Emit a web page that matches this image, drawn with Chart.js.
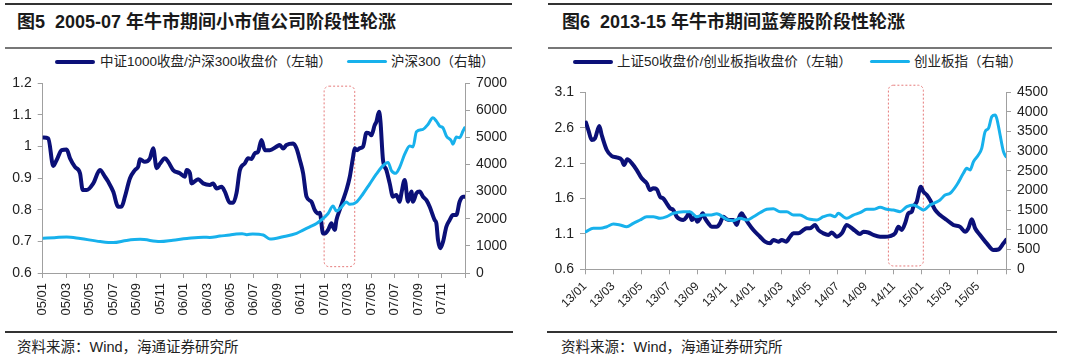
<!DOCTYPE html>
<html>
<head>
<meta charset="utf-8">
<script src="https://cdn.jsdelivr.net/npm/chart.js@4/dist/chart.umd.min.js"></script>
<style>
  html, body { margin:0; padding:0; background:#fff; }
  #wrap { position:relative; width:1080px; height:359px; overflow:hidden; font-family:"Liberation Sans","Noto Sans CJK SC",sans-serif; color:#222; }
  .rule { position:absolute; }
  .title { position:absolute; font-size:18px; font-weight:bold; line-height:24px; white-space:nowrap; color:#1a1a1a; }
  .leg { position:absolute; font-size:13.5px; line-height:16px; white-space:nowrap; color:#222; }
  .sw { position:absolute; height:4px; border-radius:2px; }
  .src { position:absolute; font-size:14.5px; line-height:18px; white-space:nowrap; color:#222; }
  canvas { position:absolute; top:0; }
</style>
</head>
<body>
<div id="wrap">
  <!-- left panel frame -->
  <div class="rule" style="left:5px;top:3px;width:507px;height:2px;background:#333"></div>
  <div class="title" style="left:17px;top:10px">图5&nbsp;&nbsp;2005-07 年牛市期间小市值公司阶段性轮涨</div>
  <div class="rule" style="left:5px;top:47px;width:507px;height:1.5px;background:#777"></div>
  <div class="sw" style="left:55px;top:60px;width:40px;background:#0b1078"></div>
  <div class="leg" style="left:100px;top:54px">中证1000收盘/沪深300收盘价（左轴）</div>
  <div class="sw" style="left:347px;top:60px;width:40px;height:3px;background:#17b1ec"></div>
  <div class="leg" style="left:391px;top:54px">沪深300（右轴）</div>
  <div class="rule" style="left:5px;top:331px;width:508px;height:1.5px;background:#333"></div>
  <div class="src" style="left:17px;top:338px">资料来源：Wind，海通证券研究所</div>

  <!-- right panel frame -->
  <div class="rule" style="left:548px;top:3px;width:504px;height:2px;background:#333"></div>
  <div class="title" style="left:562px;top:10px">图6&nbsp;&nbsp;2013-15 年牛市期间蓝筹股阶段性轮涨</div>
  <div class="rule" style="left:548px;top:47px;width:504px;height:1.5px;background:#777"></div>
  <div class="sw" style="left:573px;top:60px;width:40px;background:#0b1078"></div>
  <div class="leg" style="left:617px;top:54px">上证50收盘价/创业板指收盘价（左轴）</div>
  <div class="sw" style="left:870px;top:60px;width:40px;height:3px;background:#17b1ec"></div>
  <div class="leg" style="left:914px;top:54px">创业板指（右轴）</div>
  <div class="rule" style="left:547px;top:331px;width:510px;height:1.5px;background:#333"></div>
  <div class="src" style="left:561px;top:338px">资料来源：Wind，海通证券研究所</div>

  <canvas id="c1" width="540" height="330" style="left:0px"></canvas>
  <canvas id="c2" width="540" height="330" style="left:540px"></canvas>
</div>
<script>
// ---------------- DATA: Figure 5 (2005-07), x = months since 2005/01 ----------------
const fig5TickLabels = ['05/01','05/03','05/05','05/07','05/09','05/11','06/01','06/03','06/05','06/07','06/09','06/11','07/01','07/03','07/05','07/07','07/09','07/11'];
const fig5LeftTicks = [0.6,0.7,0.8,0.9,1.0,1.1,1.2];
const fig5RightTicks = [0,1000,2000,3000,4000,5000,6000,7000];
const fig5Ratio = [
  [0.05,1.028],[0.48,1.025],[0.9,0.938],[1.19,0.957],[1.62,0.988],[2.04,0.99],[2.33,0.962],[2.75,0.935],
  [3.18,0.915],[3.41,0.862],[3.75,0.862],[4.31,0.883],[4.88,0.925],[5.31,0.904],[5.59,0.888],[6.01,0.857],
  [6.44,0.809],[6.73,0.81],[7.01,0.841],[7.44,0.899],[7.86,0.925],[8.14,0.936],[8.29,0.959],[8.71,0.951],
  [9.14,0.962],[9.42,0.994],[9.71,0.931],[9.99,0.945],[10.42,0.962],[10.7,0.951],[11.12,0.925],[11.69,0.915],
  [12.12,0.904],[12.27,0.925],[12.55,0.915],[12.69,0.883],[13.25,0.896],[13.68,0.883],[14.25,0.878],[14.53,0.883],
  [14.82,0.867],[15.25,0.872],[15.53,0.857],[15.95,0.822],[16.24,0.822],[16.52,0.852],[16.81,0.925],[17.23,0.946],
  [17.51,0.962],[17.8,0.96],[18.08,0.978],[18.36,0.983],[18.65,1.02],[18.94,0.988],[19.36,0.988],[19.93,0.999],
  [20.21,1.004],[20.49,0.993],[20.78,1.004],[21.35,1.009],[21.64,0.993],[21.92,0.957],[22.2,0.915],[22.49,0.841],
  [22.91,0.825],[23.19,0.799],[23.48,0.788],[23.62,0.79],[23.9,0.725],[24.05,0.725],[24.33,0.736],[24.62,0.757],
  [24.75,0.746],[24.9,0.736],[25.04,0.767],[25.32,0.799],[25.6,0.83],[25.89,0.862],[26.18,0.904],[26.46,0.967],
  [26.6,0.994],[26.8,0.988],[27.03,0.994],[27.31,0.999],[27.6,1.043],[27.88,1.04],[28.02,1.035],[28.3,1.067],
  [28.45,1.078],[28.67,1.109],[28.79,1.08],[29.01,0.957],[29.3,0.925],[29.58,0.883],[29.86,0.841],[30.15,0.846],
  [30.43,0.825],[30.58,0.852],[30.86,0.894],[31.14,0.825],[31.43,0.857],[31.57,0.825],[31.86,0.852],[32.14,0.857],
  [32.42,0.841],[32.71,0.83],[32.99,0.809],[33.42,0.767],[33.56,0.757],[33.7,0.704],[33.9,0.678],[34.13,0.699],
  [34.41,0.746],[34.69,0.767],[34.97,0.783],[35.26,0.783],[35.54,0.825],[35.83,0.841],[35.97,0.841]
];
const fig5Hs300 = [
  [0.05,1280],[1.0,1300],[2.04,1330],[3.2,1270],[4.9,1160],[6.0,1120],[7.15,1200],[8.3,1240],[10.0,1160],
  [11.1,1210],[12.3,1270],[13.7,1320],[14.25,1310],[15.1,1360],[15.95,1400],[16.5,1440],[17.0,1450],
  [17.4,1410],[17.9,1440],[18.8,1400],[19.36,1250],[20.49,1336],[21.64,1460],[22.2,1580],[22.77,1700],
  [23.34,1825],[23.9,2008],[24.33,2190],[24.75,2467],[25.04,2285],[25.47,2431],[25.89,2613],[26.18,2529],
  [26.75,2613],[27.31,2920],[27.88,3285],[28.45,3650],[28.88,3891],[29.44,4073],[29.73,3770],[30.09,3672],
  [30.43,3891],[30.86,4380],[31.29,4683],[31.57,4646],[31.86,5205],[32.42,5292],[32.84,5475],[33.27,5716],
  [33.56,5595],[33.84,5413],[34.12,5351],[34.41,5048],[34.84,4865],[34.97,4745],[35.26,5011],[35.54,4986],
  [35.83,5230],[35.97,5351]
];
const fig5HighlightX = [23.99, 26.6];
const fig5HighlightY = [0.62, 1.19];

// ---------------- DATA: Figure 6 (2013-15), x = months since 2013/01 ----------------
const fig6TickLabels = ['13/01','13/03','13/05','13/07','13/09','13/11','14/01','14/03','14/05','14/07','14/09','14/11','15/01','15/03','15/05'];
const fig6LeftTicks = [0.6,1.1,1.6,2.1,2.6,3.1];
const fig6RightTicks = [0,500,1000,1500,2000,2500,3000,3500,4000,4500];
const fig6Ratio = [
  [0.07,2.671],[0.24,2.567],[0.48,2.426],[0.71,2.45],[1.02,2.624],[1.19,2.497],[1.55,2.285],[1.9,2.2],
  [2.26,2.18],[2.62,2.144],[2.78,2.073],[3.01,2.153],[3.33,2.1],[3.69,2.002],[4.04,1.885],[4.4,1.815],
  [4.63,1.72],[4.87,1.744],[5.11,1.73],[5.35,1.625],[5.58,1.6],[5.82,1.532],[6.06,1.462],[6.29,1.438],
  [6.54,1.343],[6.77,1.306],[7.01,1.296],[7.25,1.343],[7.43,1.4],[7.61,1.296],[7.84,1.343],[8.0,1.27],
  [8.2,1.32],[8.39,1.39],[8.55,1.32],[8.79,1.25],[9.03,1.2],[9.39,1.2],[9.62,1.25],[9.86,1.343],
  [10.1,1.306],[10.34,1.296],[10.57,1.296],[10.81,1.226],[11.0,1.343],[11.17,1.39],[11.33,1.343],[11.64,1.25],
  [12.0,1.155],[12.47,1.06],[12.83,0.99],[13.19,0.967],[13.42,1.014],[13.78,0.99],[14.02,1.014],[14.33,0.99],
  [14.61,1.06],[14.85,1.108],[15.2,1.108],[15.56,1.155],[15.8,1.18],[16.04,1.18],[16.39,1.226],[16.63,1.155],
  [16.99,1.108],[17.34,1.085],[17.58,1.12],[17.94,1.06],[18.3,1.108],[18.65,1.226],[18.89,1.2],[19.24,1.145],
  [19.6,1.1],[19.84,1.13],[20.19,1.12],[20.55,1.085],[21.03,1.06],[21.38,1.06],[21.74,1.07],[22.1,1.108],
  [22.33,1.2],[22.57,1.155],[22.81,1.25],[23.04,1.39],[23.29,1.414],[23.4,1.485],[23.64,1.555],[23.93,1.767],
  [24.11,1.697],[24.36,1.65],[24.59,1.579],[24.95,1.438],[25.3,1.367],[25.78,1.296],[26.25,1.226],[26.73,1.2],
  [27.08,1.13],[27.32,1.18],[27.56,1.306],[27.8,1.18],[28.15,1.085],[28.63,0.967],[29.1,0.873],[29.46,0.88],
  [29.82,0.967],[30.0,1.014]
];
const fig6Chinext = [
  [0.07,956],[0.59,1042],[1.07,1042],[1.55,1083],[2.02,1152],[2.49,1127],[2.97,1083],[3.44,1169],
  [3.92,1253],[4.4,1337],[4.87,1337],[5.35,1296],[5.82,1337],[6.29,1424],[7.01,1466],[7.48,1466],
  [7.96,1337],[8.43,1380],[8.91,1380],[9.39,1410],[10.1,1271],[10.57,1237],[11.05,1296],[11.52,1253],
  [12.0,1337],[12.47,1439],[12.95,1525],[13.42,1541],[13.9,1466],[14.38,1466],[14.85,1380],[15.32,1380],
  [15.8,1296],[16.04,1271],[16.51,1253],[16.99,1337],[17.46,1380],[17.82,1337],[18.05,1424],[18.41,1337],
  [18.65,1296],[19.12,1380],[19.6,1439],[20.08,1525],[20.55,1525],[21.03,1576],[21.5,1525],[21.97,1508],
  [22.45,1466],[22.93,1592],[23.4,1635],[23.88,1550],[24.11,1508],[24.59,1635],[24.95,1694],[25.3,1762],
  [25.66,1889],[26.02,1932],[26.49,2143],[26.96,2440],[27.2,2567],[27.44,2525],[27.68,2736],[28.03,2906],
  [28.27,3076],[28.51,3498],[28.75,3583],[28.99,3880],[29.22,3922],[29.34,3838],[29.58,3414],[29.82,2990],
  [30.0,2863]
];
const fig6HighlightX = [21.62, 24.11];
const fig6HighlightY = [0.647, 3.2];

// ---------------- STYLE ----------------
const NAVY = '#0b1078';
const SKY = '#17b1ec';
const AXIS = '#a0a0a0';
const FONT = '"Liberation Sans","Noto Sans CJK SC",sans-serif';

const boxPlugin = {
  id: 'hlbox',
  beforeDatasetsDraw(chart, args, opts) {
    const xs = chart.scales.x, ys = chart.scales.yL;
    const x0 = xs.getPixelForValue(opts.x[0]), x1 = xs.getPixelForValue(opts.x[1]);
    const y0 = ys.getPixelForValue(opts.y[1]), y1 = ys.getPixelForValue(opts.y[0]);
    const ctx = chart.ctx;
    ctx.save();
    ctx.strokeStyle = '#e57a7a';
    ctx.lineWidth = 1;
    ctx.setLineDash([2, 2]);
    ctx.beginPath();
    ctx.roundRect(x0, y0, x1 - x0, y1 - y0, 5);
    ctx.stroke();
    ctx.restore();
  }
};

function fmtNum(v) { return String(Number(Number(v).toFixed(3))); }

function makeChart(id, geo, d) {
  const toXY = arr => arr.map(p => ({x: p[0], y: p[1]}));
  const tickStyle = {color: '#222', font: {family: FONT, size: 14}, padding: 6, autoSkip: false};
  return new Chart(document.getElementById(id), {
    type: 'line',
    data: {
      datasets: [
        {data: toXY(d.ratio), yAxisID: 'yL', borderColor: NAVY, borderWidth: 4, pointRadius: 0,
         cubicInterpolationMode: 'monotone', borderJoinStyle: 'round', borderCapStyle: 'round', order: 1},
        {data: toXY(d.index), yAxisID: 'yR', borderColor: SKY, borderWidth: 3, pointRadius: 0,
         cubicInterpolationMode: 'monotone', borderJoinStyle: 'round', borderCapStyle: 'round', order: 0}
      ]
    },
    options: {
      responsive: false,
      animation: false,
      events: [],
      layout: {padding: {top: geo.top, left: 0, right: 0, bottom: 0}},
      plugins: {legend: {display: false}, tooltip: {enabled: false}, hlbox: {x: d.hx, y: d.hy}},
      scales: {
        x: {
          type: 'linear', min: 0, max: d.xMax, offset: false,
          afterBuildTicks: s => { s.ticks = d.xTicks.map(v => ({value: v})); },
          afterFit: s => { s.height = geo.xh; },
          ticks: {autoSkip: false, minRotation: geo.rot, maxRotation: geo.rot, color: '#222',
                  font: {family: FONT, size: geo.xfs}, padding: geo.xpad,
                  callback: (v, i) => d.xLabels[i] || ''},
          grid: {drawOnChartArea: false, drawTicks: true, tickLength: 5, color: AXIS},
          border: {display: true, color: AXIS, width: 1}
        },
        yL: {
          type: 'linear', position: 'left', min: d.lTicks[0], max: d.lTicks[d.lTicks.length - 1],
          afterBuildTicks: s => { s.ticks = d.lTicks.map(v => ({value: v})); },
          afterFit: s => { s.width = geo.lw; },
          ticks: Object.assign({}, tickStyle, {callback: v => fmtNum(v)}),
          grid: {drawOnChartArea: false, drawTicks: true, tickLength: 5, color: AXIS},
          border: {display: true, color: AXIS, width: 1}
        },
        yR: {
          type: 'linear', position: 'right', min: 0, max: d.rTicks[d.rTicks.length - 1],
          afterBuildTicks: s => { s.ticks = d.rTicks.map(v => ({value: v})); },
          afterFit: s => { s.width = geo.rw; },
          ticks: Object.assign({}, tickStyle, {callback: v => fmtNum(v)}),
          grid: {drawOnChartArea: false, drawTicks: true, tickLength: 5, color: AXIS},
          border: {display: true, color: AXIS, width: 1}
        }
      }
    },
    plugins: [boxPlugin]
  });
}

const ticksEvery2 = n => Array.from({length: n / 2 + 1}, (_, i) => i * 2);

makeChart('c1', {top: 83, xh: 57, lw: 42.7, rw: 75, rot: 90, xfs: 13, xpad: 5}, {
  ratio: fig5Ratio, index: fig5Hs300, xMax: 36, xTicks: ticksEvery2(36), xLabels: fig5TickLabels,
  lTicks: fig5LeftTicks, rTicks: fig5RightTicks, hx: fig5HighlightX, hy: fig5HighlightY
});
makeChart('c2', {top: 92.3, xh: 60.7, lw: 45, rw: 74, rot: 45, xfs: 12, xpad: 5}, {
  ratio: fig6Ratio, index: fig6Chinext, xMax: 30, xTicks: ticksEvery2(30), xLabels: fig6TickLabels,
  lTicks: fig6LeftTicks, rTicks: fig6RightTicks, hx: fig6HighlightX, hy: fig6HighlightY
});
</script>
</body>
</html>
